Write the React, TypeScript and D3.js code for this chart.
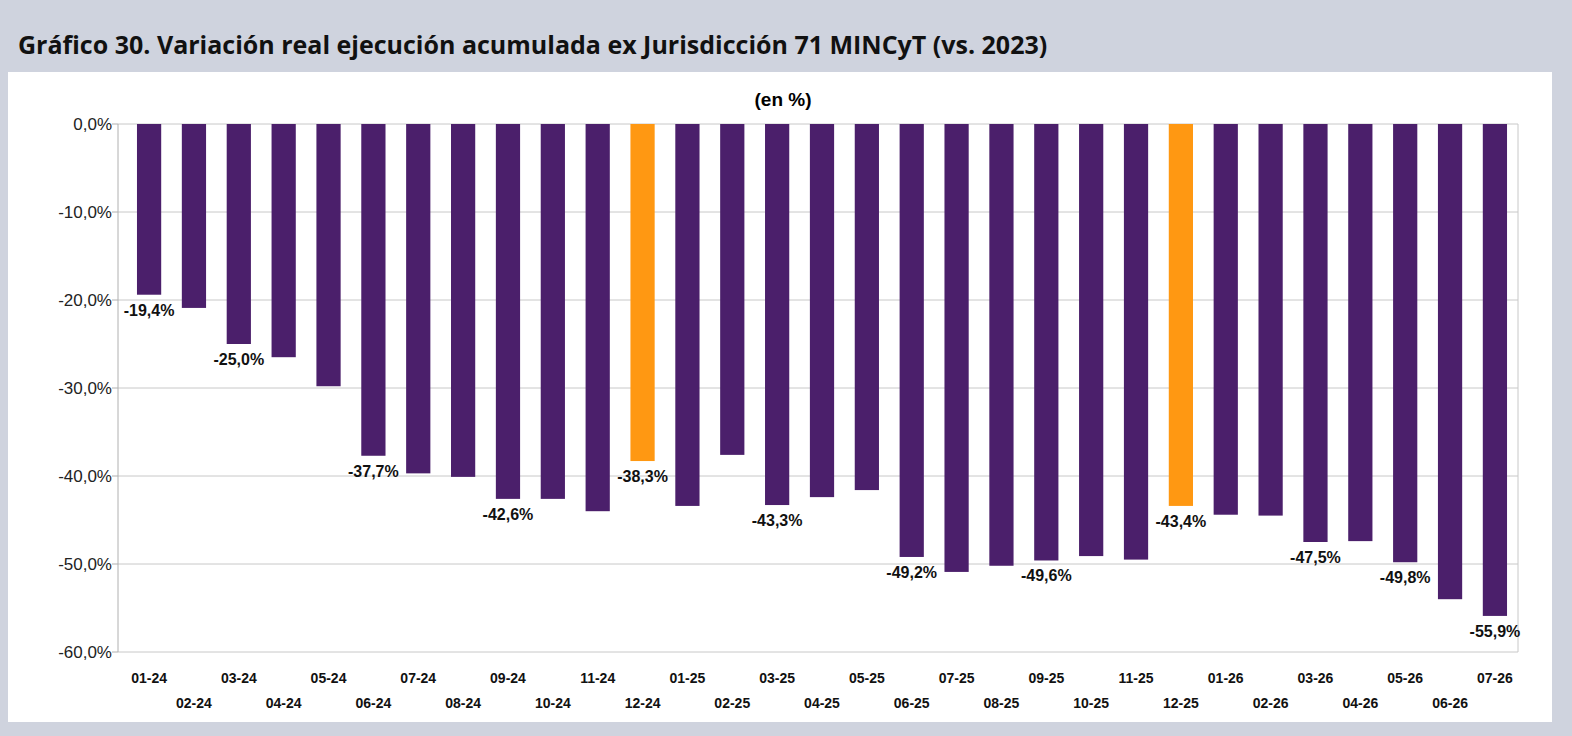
import React from "react";
import * as d3 from "d3";

const categories = ["01-24","02-24","03-24","04-24","05-24","06-24","07-24","08-24","09-24","10-24","11-24","12-24","01-25","02-25","03-25","04-25","05-25","06-25","07-25","08-25","09-25","10-25","11-25","12-25","01-26","02-26","03-26","04-26","05-26","06-26","07-26"];
const values = [-19.4,-20.9,-25.0,-26.5,-29.8,-37.7,-39.7,-40.1,-42.6,-42.6,-44.0,-38.3,-43.4,-37.6,-43.3,-42.4,-41.6,-49.2,-50.9,-50.2,-49.6,-49.1,-49.5,-43.4,-44.4,-44.5,-47.5,-47.4,-49.8,-54.0,-55.9];
const highlighted = ["12-24","12-25"];
const labeled = ["01-24","03-24","06-24","09-24","12-24","03-25","06-25","09-25","12-25","03-26","05-26","07-26"];
const yTicks = [0,-10,-20,-30,-40,-50,-60];

const W = 1572, H = 736;
const left = 118, right = 1518, top = 124, bottom = 652;

export default function App() {
  const x = d3.scaleBand().domain(categories).range([left + 10, right - 2]).paddingInner(0.46).paddingOuter(0.2);
  const y = d3.scaleLinear().domain([-60, 0]).range([bottom, top]);
  const fmt = (v: number) => v.toFixed(1).replace(".", ",") + "%";
  return (
    <svg width={W} height={H} style={{ position: "absolute", left: 0, top: 0 }} fontFamily="Liberation Sans, Arial, sans-serif">
      <rect x={0} y={0} width={W} height={H} fill="#cfd3de" />
      <rect x={8} y={72} width={1544} height={650} fill="#ffffff" />
      <text x={18} y={54} fontSize={25} fontWeight="bold" fontFamily="Open Sans, sans-serif" fill="#111">
        Gráfico 30. Variación real ejecución acumulada ex Jurisdicción 71 MINCyT (vs. 2023)
      </text>
      <text x={783} y={106} fontSize={19} fontWeight="bold" textAnchor="middle" fill="#000">(en %)</text>
      {yTicks.map(t => (
        <g key={t}>
          <line x1={left} x2={right} y1={y(t)} y2={y(t)} stroke="#c8c8c8" strokeWidth={1} />
          <line x1={left - 6} x2={left} y1={y(t)} y2={y(t)} stroke="#b0b0b0" />
          <text x={left - 6} y={y(t) + 6} fontSize={17} textAnchor="end" fill="#222">{fmt(t)}</text>
        </g>
      ))}
      <line x1={left} x2={left} y1={top} y2={bottom} stroke="#b0b0b0" />
      <line x1={right} x2={right} y1={top} y2={bottom} stroke="#c8c8c8" />
      {categories.map((c, i) => {
        const v = values[i];
        const bx = x(c)!;
        const cx = bx + x.bandwidth() / 2;
        return (
          <g key={c}>
            <rect x={bx} y={y(0)} width={x.bandwidth()} height={y(v) - y(0)} fill={highlighted.includes(c) ? "#ff9812" : "#4b1f6b"} />
            {labeled.includes(c) && (
              <text x={cx} y={y(v) + 21} fontSize={16} fontWeight="bold" textAnchor="middle" fill="#111">{fmt(v)}</text>
            )}
            <text x={cx} y={i % 2 === 0 ? 683 : 708} fontSize={14} fontWeight="bold" textAnchor="middle" fill="#111">{c}</text>
          </g>
        );
      })}
    </svg>
  );
}
